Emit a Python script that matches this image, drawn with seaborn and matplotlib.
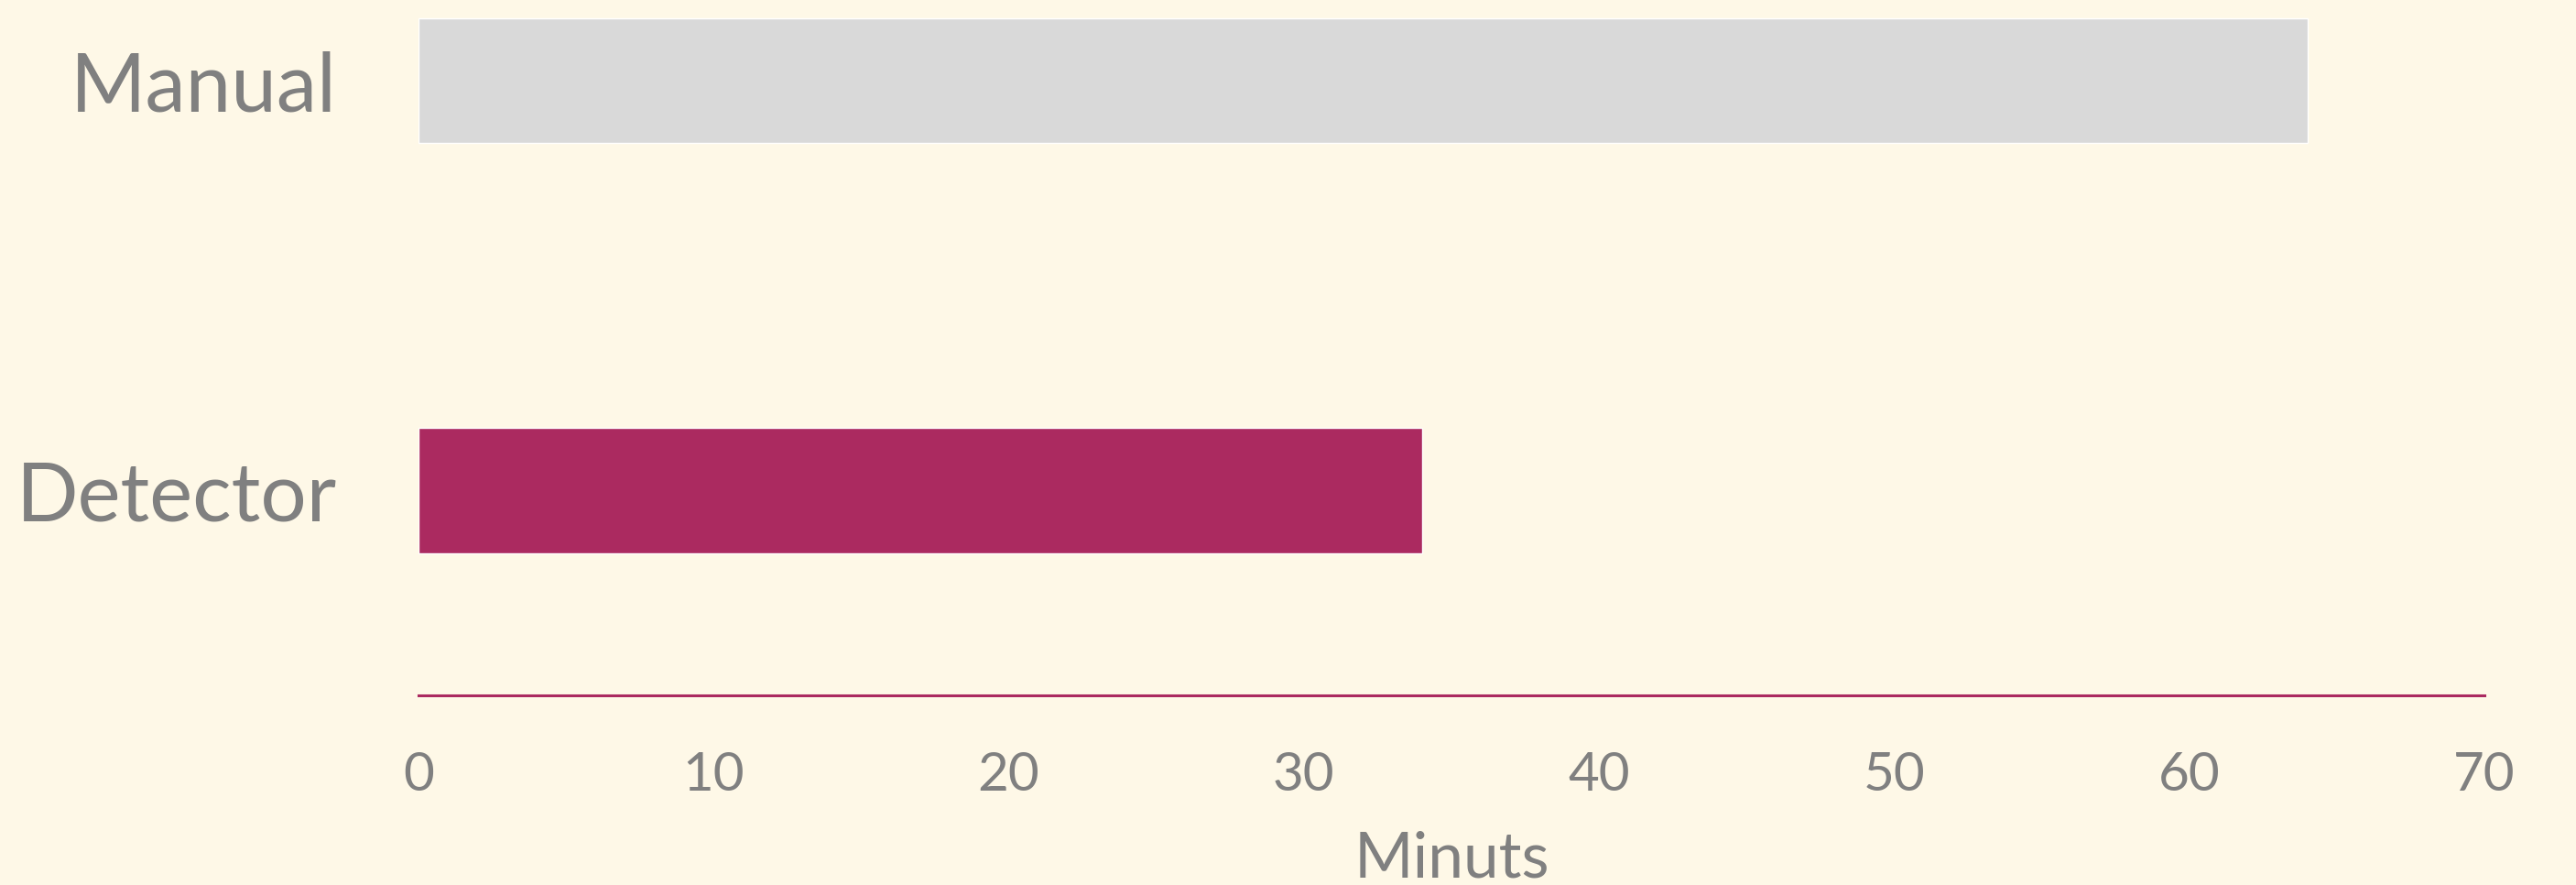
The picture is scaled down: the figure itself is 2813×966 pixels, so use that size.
import matplotlib
matplotlib.use("Agg")
import matplotlib.pyplot as plt
import seaborn as sns
import pandas as pd

categories = ["Manual", "Detector"]
minutes = [64, 34]
bar_colors = ["#D9D9D9", "#AB2A60"]
x_ticks = [0, 10, 20, 30, 40, 50, 60, 70]

BG = "#FEF8E7"
GRAY = "#808080"

sns.set_theme(style="white")
plt.rcParams["font.family"] = ["Lato", "DejaVu Sans"]

df = pd.DataFrame({"category": categories, "minutes": minutes})

fig = plt.figure(figsize=(28.13, 9.66), dpi=100, facecolor=BG)
ax = fig.add_axes([457/2813, (966-759)/966, (2713-457)/2813, 759/966])
ax.set_facecolor(BG)

sns.barplot(data=df, x="minutes", y="category", hue="category",
            palette=bar_colors, orient="h", width=0.305, legend=False,
            saturation=1, ax=ax)

ax.set_xlim(0, 70)
ax.set_ylim(1.5, -0.197)
ax.set_xticks(x_ticks)
ax.set_xticklabels([str(t) for t in x_ticks])
ax.tick_params(axis="x", length=0, pad=44, labelsize=42, labelcolor=GRAY)
ax.tick_params(axis="y", length=0, pad=64, labelsize=64, labelcolor=GRAY)
ax.set_ylabel("")
ax.set_xlabel("Minuts", fontsize=50, color=GRAY, labelpad=24)

for s in ["top", "right", "left"]:
    ax.spines[s].set_visible(False)
ax.spines["bottom"].set_color("#AB2A60")
ax.spines["bottom"].set_linewidth(2.2)

fig.savefig("out.png", dpi=100, facecolor=BG)
